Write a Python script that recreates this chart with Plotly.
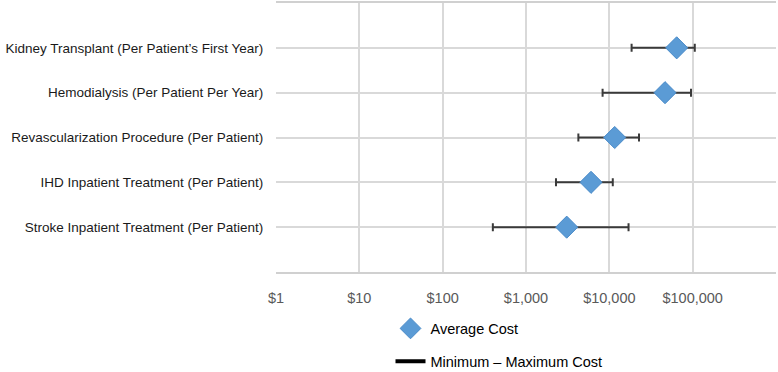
import plotly.graph_objects as go

categories = [
    "Stroke Inpatient Treatment (Per Patient)",
    "IHD Inpatient Treatment (Per Patient)",
    "Revascularization Procedure (Per Patient)",
    "Hemodialysis (Per Patient Per Year)",
    "Kidney Transplant (Per Patient\u2019s First Year)",
]
avg_cost = [3080, 6030, 11600, 46600, 64300]
min_cost = [400, 2290, 4250, 8300, 18500]
max_cost = [17000, 11000, 22700, 95500, 106000]

x_tickvals = [1, 10, 100, 1000, 10000, 100000, 1000000]
x_ticktext = ["$1", "$10", "$100", "$1,000", "$10,000", "$100,000", ""]

ypos = list(range(1, len(categories) + 1))

fig = go.Figure()
fig.add_trace(go.Scatter(
    x=avg_cost, y=ypos, mode="markers", name="Average Cost",
    legendgroup="a",
    marker=dict(symbol="diamond", size=17, color="#5B9BD5",
                line=dict(color="#4A8BC9", width=1)),
    error_x=dict(type="data", symmetric=False,
                 array=[mx - a for mx, a in zip(max_cost, avg_cost)],
                 arrayminus=[a - mn for mn, a in zip(min_cost, avg_cost)],
                 color="#3a3a3a", thickness=2, width=4),
    showlegend=True,
))
fig.add_trace(go.Scatter(
    x=[None], y=[None], mode="lines", name="Minimum \u2013 Maximum Cost",
    legendgroup="b",
    line=dict(color="#000000", width=4),
))

fig.update_layout(
    width=778, height=372,
    margin=dict(l=276, r=2, t=3, b=100, autoexpand=False),
    paper_bgcolor="white", plot_bgcolor="white",
    font=dict(family="Liberation Sans, Arial, sans-serif", color="#000000"),
    xaxis=dict(type="log", range=[0, 6], tickvals=x_tickvals, ticktext=x_ticktext,
               showgrid=True, gridcolor="#d9d9d9", gridwidth=1.5,
               showline=True, linecolor="#d0d0d0", linewidth=2, mirror=True,
               ticks="outside", ticklen=12, tickcolor="rgba(0,0,0,0)",
               tickfont=dict(size=14.5, color="#595959"), zeroline=False),
    yaxis=dict(range=[0, 6], tickvals=ypos, ticktext=categories,
               showgrid=True, gridcolor="#d9d9d9", gridwidth=1.5,
               zeroline=False, showline=False,
               ticks="outside", ticklen=9, tickcolor="rgba(0,0,0,0)",
               tickfont=dict(size=13.5, color="#1a1a1a")),
    legend=dict(x=0.229, y=0.16, xref="paper", yref="container",
                xanchor="left", yanchor="top",
                font=dict(size=14.5, color="#000000"), tracegroupgap=11,
                bgcolor="rgba(0,0,0,0)"),
    showlegend=True,
)
fig.update_yaxes(minor=dict(tickvals=[0, 1, 2, 3, 4, 5, 6], showgrid=True,
                            gridcolor="#d9d9d9", gridwidth=1.5, ticks=""))

fig.write_html("out.html", config={"displayModeBar": False},
               post_script="document.body.style.margin='0px';")
